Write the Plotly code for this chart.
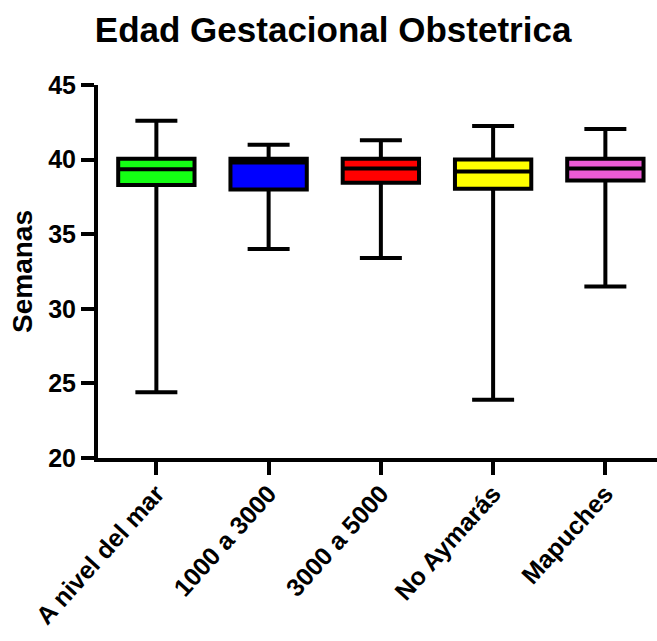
import plotly.graph_objects as go

categories = ["A nivel del mar", "1000 a 3000", "3000 a 5000", "No Aymarás", "Mapuches"]
lower = [24.4, 34.0, 33.4, 23.9, 31.5]
q1 = [38.3, 38.0, 38.45, 38.05, 38.6]
median = [39.35, 39.8, 39.4, 39.2, 39.4]
q3 = [40.05, 40.05, 40.05, 40.0, 40.05]
upper = [42.6, 41.0, 41.3, 42.25, 42.05]
colors = ["#14FF14", "#0000FF", "#FF0000", "#FFFF00", "#EC5BD6"]
y_ticks = [20, 25, 30, 35, 40, 45]

FONT = "Liberation Sans, Arial, sans-serif"

fig = go.Figure()
for i, cat in enumerate(categories):
    fig.add_trace(go.Box(
        x=[cat],
        q1=[q1[i]], median=[median[i]], q3=[q3[i]],
        lowerfence=[lower[i]], upperfence=[upper[i]],
        fillcolor=colors[i],
        line=dict(color="black", width=4),
        whiskerwidth=0.55,
        width=0.68,
        boxpoints=False,
        showlegend=False,
        name=cat,
    ))

fig.update_layout(
    width=657, height=641,
    margin=dict(l=98, r=0, t=85, b=183),
    paper_bgcolor="white", plot_bgcolor="white",
    boxmode="overlay",
    font=dict(family=FONT, color="black"),
    title=dict(
        text="Edad Gestacional Obstetrica",
        font=dict(family=FONT, size=35, weight="bold", color="black"),
        xref="container", x=0.507, xanchor="center",
        yref="container", y=1 - 30 / 641, yanchor="middle",
    ),
    xaxis=dict(
        type="category",
        categoryorder="array", categoryarray=categories,
        range=[-0.52, 4.46],
        showline=True, linecolor="black", linewidth=4,
        ticks="outside", ticklen=13, tickwidth=4, tickcolor="black",
        tickangle=-48,
        ticklabelstandoff=-6,
        tickfont=dict(family=FONT, size=25, weight="bold", color="black"),
        showgrid=False, zeroline=False, automargin=False,
    ),
    yaxis=dict(
        range=[20, 45],
        tickvals=y_ticks,
        showline=True, linecolor="black", linewidth=4,
        ticks="outside", ticklen=13, tickwidth=4, tickcolor="black",
        tickfont=dict(family=FONT, size=25, weight="bold", color="black"),
        showgrid=False, zeroline=False, automargin=False,
        title=dict(text="Semanas", standoff=8,
                   font=dict(family=FONT, size=28, weight="bold", color="black")),
    ),
)

fig.write_html("out.html")
